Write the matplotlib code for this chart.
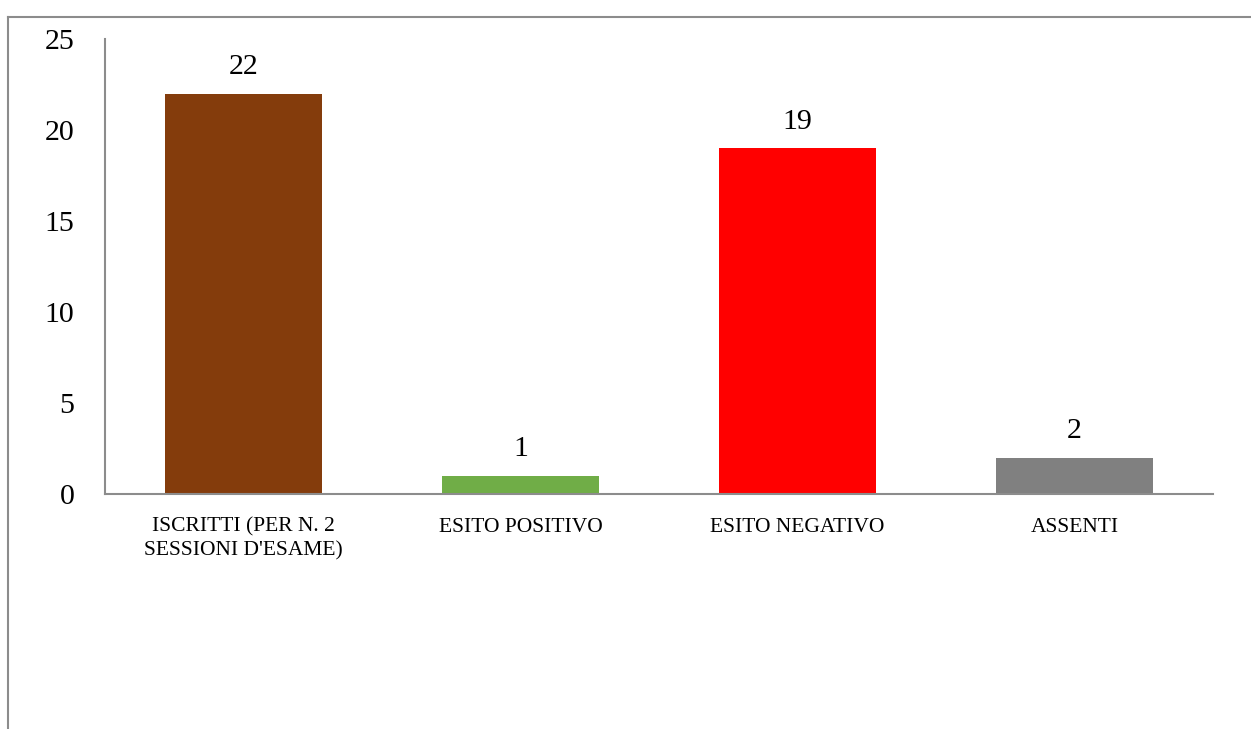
import matplotlib.pyplot as plt
from matplotlib.lines import Line2D

plt.rcParams['font.family'] = ['Liberation Serif', 'DejaVu Serif']

categories = ["ISCRITTI (PER N. 2\nSESSIONI D'ESAME)", "ESITO POSITIVO",
              "ESITO NEGATIVO", "ASSENTI"]
values = [22, 1, 19, 2]
colors = ['#843C0C', '#70AD47', '#FF0000', '#808080']

fig = plt.figure(figsize=(12.51, 7.29), dpi=100)
ax = fig.add_axes([105 / 1251, 235 / 729, 1108 / 1251, 455 / 729])

x = range(len(categories))
bars = ax.bar(x, values, width=0.57, color=colors, zorder=2)
for b, v in zip(bars, values):
    ax.text(b.get_x() + b.get_width() / 2, v + 0.75, str(v),
            ha='center', va='bottom', fontsize=21.5)

ax.set_xlim(-0.5, len(categories) - 0.5)
ax.set_ylim(0, 25)
ax.set_yticks(range(0, 26, 5))
ax.set_xticks(list(x))
ax.set_xticklabels(categories, fontsize=15.5, linespacing=1.3)
ax.tick_params(axis='y', length=0, labelsize=21.5, pad=22)
ax.tick_params(axis='x', length=0, pad=17)

for side in ['top', 'right']:
    ax.spines[side].set_visible(False)
for side in ['left', 'bottom']:
    ax.spines[side].set_color('#8c8c8c')
    ax.spines[side].set_linewidth(1.5)

# outer chart frame (partly cut off in the original)
fig.add_artist(Line2D([8 / 1251, 1], [1 - 17 / 729, 1 - 17 / 729],
                      transform=fig.transFigure, color='#8c8c8c', lw=1.5))
fig.add_artist(Line2D([8 / 1251, 8 / 1251], [0, 1 - 17 / 729],
                      transform=fig.transFigure, color='#8c8c8c', lw=1.5))

fig.savefig('out.png', dpi=100)
